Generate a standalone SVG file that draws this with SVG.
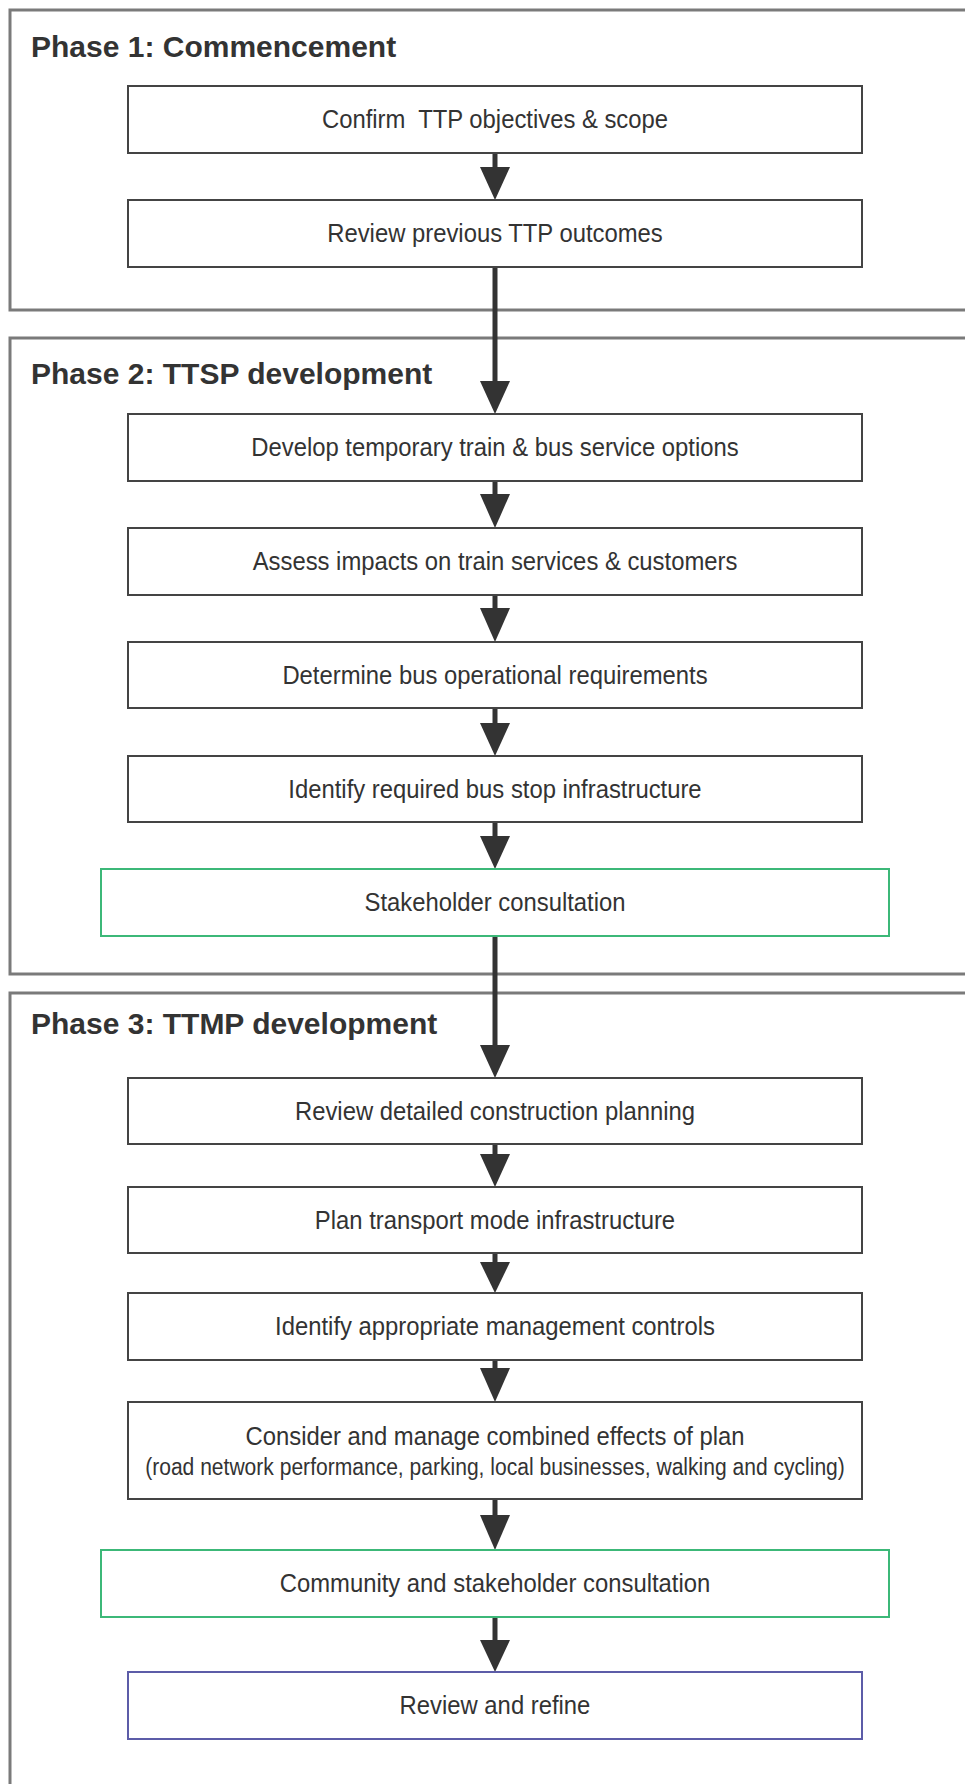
<svg xmlns="http://www.w3.org/2000/svg" width="965" height="1784" viewBox="0 0 965 1784">
<style>
.frame{fill:#fff;stroke:#7a7a7a;stroke-width:3}
.title{font-family:"Liberation Sans",Arial,sans-serif;font-weight:bold;font-size:30px;fill:#333}
.box{fill:#fff;stroke:#444;stroke-width:2}
.green{fill:#fff;stroke:#3cb878;stroke-width:2}
.blue{fill:#fff;stroke:#5c5ca8;stroke-width:2}
.t{font-family:"Liberation Sans",Arial,sans-serif;font-size:26.5px;fill:#333;text-anchor:middle;white-space:pre}
.t2{font-family:"Liberation Sans",Arial,sans-serif;font-size:23.4px;fill:#333;text-anchor:middle}
.ln{stroke:#333;stroke-width:5;fill:none}
.hd{fill:#333}
</style>
<rect width="965" height="1784" fill="#fff"/>
<g id="phase1">
<rect class="frame" x="10" y="10" width="970" height="300"/>
<text class="title" x="31" y="57">Phase 1: Commencement</text>
</g>
<g id="phase2">
<rect class="frame" x="10" y="338" width="970" height="636"/>
<text class="title" x="31" y="384">Phase 2: TTSP development</text>
</g>
<g id="phase3">
<rect class="frame" x="10" y="993" width="970" height="810"/>
<text class="title" x="31" y="1034">Phase 3: TTMP development</text>
</g>
<g id="connectors">
<line class="ln" x1="495" y1="153" x2="495" y2="170"/><polygon class="hd" points="480,167 510,167 495,200"/>
<line class="ln" x1="495" y1="267" x2="495" y2="384"/><polygon class="hd" points="480,381 510,381 495,414"/>
<line class="ln" x1="495" y1="481" x2="495" y2="497"/><polygon class="hd" points="480,494 510,494 495,528"/>
<line class="ln" x1="495" y1="595" x2="495" y2="611"/><polygon class="hd" points="480,608 510,608 495,642"/>
<line class="ln" x1="495" y1="708" x2="495" y2="726"/><polygon class="hd" points="480,723 510,723 495,756"/>
<line class="ln" x1="495" y1="822" x2="495" y2="839"/><polygon class="hd" points="480,836 510,836 495,869"/>
<line class="ln" x1="495" y1="936" x2="495" y2="1048"/><polygon class="hd" points="480,1045 510,1045 495,1078"/>
<line class="ln" x1="495" y1="1144" x2="495" y2="1157"/><polygon class="hd" points="480,1154 510,1154 495,1187"/>
<line class="ln" x1="495" y1="1253" x2="495" y2="1265"/><polygon class="hd" points="480,1262 510,1262 495,1293"/>
<line class="ln" x1="495" y1="1360" x2="495" y2="1371"/><polygon class="hd" points="480,1368 510,1368 495,1402"/>
<line class="ln" x1="495" y1="1499" x2="495" y2="1518"/><polygon class="hd" points="480,1515 510,1515 495,1550"/>
<line class="ln" x1="495" y1="1617" x2="495" y2="1643"/><polygon class="hd" points="480,1640 510,1640 495,1672"/>
</g>
<g id="n1"><rect class="box" x="128" y="86" width="734" height="67"/><text class="t" transform="scale(0.9,1)" x="550" y="128">Confirm  TTP objectives &amp; scope</text></g>
<g id="n2"><rect class="box" x="128" y="200" width="734" height="67"/><text class="t" transform="scale(0.9,1)" x="550" y="242">Review previous TTP outcomes</text></g>
<g id="n3"><rect class="box" x="128" y="414" width="734" height="67"/><text class="t" transform="scale(0.9,1)" x="550" y="456">Develop temporary train &amp; bus service options</text></g>
<g id="n4"><rect class="box" x="128" y="528" width="734" height="67"/><text class="t" transform="scale(0.9,1)" x="550" y="570">Assess impacts on train services &amp; customers</text></g>
<g id="n5"><rect class="box" x="128" y="642" width="734" height="66"/><text class="t" transform="scale(0.9,1)" x="550" y="684">Determine bus operational requirements</text></g>
<g id="n6"><rect class="box" x="128" y="756" width="734" height="66"/><text class="t" transform="scale(0.9,1)" x="550" y="798">Identify required bus stop infrastructure</text></g>
<g id="n7"><rect class="green" x="101" y="869" width="788" height="67"/><text class="t" transform="scale(0.9,1)" x="550" y="911">Stakeholder consultation</text></g>
<g id="n8"><rect class="box" x="128" y="1078" width="734" height="66"/><text class="t" transform="scale(0.9,1)" x="550" y="1120">Review detailed construction planning</text></g>
<g id="n9"><rect class="box" x="128" y="1187" width="734" height="66"/><text class="t" transform="scale(0.9,1)" x="550" y="1229">Plan transport mode infrastructure</text></g>
<g id="n10"><rect class="box" x="128" y="1293" width="734" height="67"/><text class="t" transform="scale(0.9,1)" x="550" y="1335">Identify appropriate management controls</text></g>
<g id="n11"><rect class="box" x="128" y="1402" width="734" height="97"/><text class="t" transform="scale(0.9,1)" x="550" y="1445">Consider and manage combined effects of plan</text><text class="t2" transform="scale(0.9,1)" x="550" y="1475">(road network performance, parking, local businesses, walking and cycling)</text></g>
<g id="n12"><rect class="green" x="101" y="1550" width="788" height="67"/><text class="t" transform="scale(0.9,1)" x="550" y="1592">Community and stakeholder consultation</text></g>
<g id="n13"><rect class="blue" x="128" y="1672" width="734" height="67"/><text class="t" transform="scale(0.9,1)" x="550" y="1714">Review and refine</text></g>
</svg>
